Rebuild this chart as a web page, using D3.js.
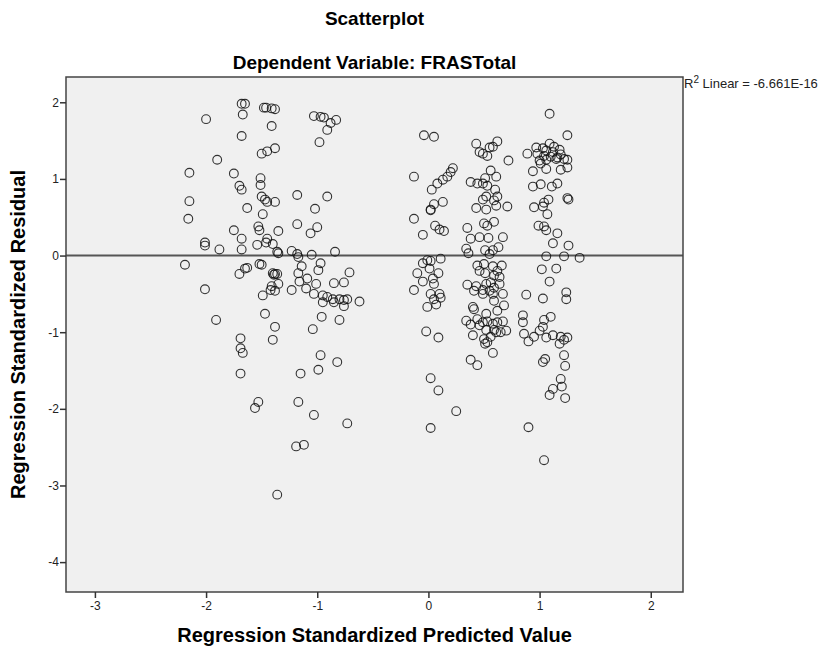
<!DOCTYPE html>
<html>
<head>
<meta charset="utf-8">
<script src="https://cdn.jsdelivr.net/npm/d3@7"></script>
<style>
  body { margin: 0; background: #fff; }
  text { font-family: "Liberation Sans", Arial, sans-serif; }
</style>
</head>
<body>
<svg id="chart" width="833" height="647"></svg>
<script>
var width = 833, height = 647;
var margin = { top: 77, right: 150, bottom: 55, left: 66 };

var titleText = "Scatterplot";
var subtitleText = "Dependent Variable: FRASTotal";
var xTitle = "Regression Standardized Predicted Value";
var yTitle = "Regression Standardized Residual";
var fitLabel = "Linear = -6.661E-16";
var xTicks = [-3, -2, -1, 0, 1, 2];
var yTicks = [2, 1, 0, -1, -2, -3, -4];
var xDomain = [-3.26, 2.29];
var yDomain = [-4.39, 2.33];

// predicted values (x) and residuals (y)
var predicted = [
  -1.68, -1.65, -1.48, -1.46, -1.41, -1.38, -2.00, -1.67, -1.03, -0.97, -0.94, -0.88, -0.83,
  -1.41, -0.91, -1.68, -0.98, -1.50, -1.45, -1.38, -1.90, -2.15, -1.75, -1.51, -1.70, -1.68,
  -1.51, -1.50, -1.47, -1.45, -1.38, -1.18, -0.91, -2.15, -1.63, -1.02, -1.49, -2.16, -1.18,
  -1.00, -1.53, -1.52, -1.75, -1.06, -1.35, -1.68, -2.01, -2.01, -1.45, -1.46, -1.40, -1.88,
  -1.68, -1.54, -1.36, -1.35, -1.23, -1.18, -1.05, -0.84,
  -2.19, -1.70, -1.65, -1.63, -1.52, -1.50, -1.40, -1.38, -1.39, -1.36, -2.01, -1.49, -1.41,
  -1.38, -1.35, -1.42, -1.23, -1.17, -1.14, -1.17, -0.97, -0.99, -0.71, -1.16, -1.09, -1.10,
  -1.01, -1.03, -0.85, -0.76, -0.95, -0.91, -0.86, -0.80, -0.76, -0.73, -0.95, -0.85, -0.76,
  -0.62, -1.47, -1.91, -1.38, -0.96, -0.80, -1.04, -1.69, -1.40, -1.69, -1.67, -0.97, -0.82,
  -0.99, -1.15, -1.69, -1.53, -1.56, -1.17, -1.03, -0.73, -1.19, -1.12, -1.36,
  -0.04, 0.05, -0.13, 0.22, 0.20, 0.17, 0.13, 0.08, 0.03, 0.05, 0.13, 0.02, 0.02, -0.13, -0.05,
  0.06, 0.10, 0.14,
  0.43, 0.55, 0.58, 0.62, 0.46, 0.53, 0.49, 0.72, 0.56, 0.61, 0.51, 0.38, 0.44, 0.49, 0.53,
  0.60, 0.62, 0.59, 0.52, 0.49, 0.61, 0.43, 0.52, 0.71, 0.50, 0.53, 0.59, 0.35, 0.38, 0.46,
  0.54, 0.67, 0.34, 0.36, 0.51, 0.55, 0.58, 0.63,
  1.09, 1.25, 0.89,
  0.97, 1.03, 1.09, 1.13, 1.18, 0.98, 1.04, 1.10, 1.16, 1.22, 1.25, 1.06, 1.12, 1.19, 1.00,
  1.06, 1.15, 1.01, 1.06, 1.19, 1.25, 0.94, 0.94, 1.01, 1.11, 1.16, 1.25, 1.26, 1.08, 1.04,
  1.03, 0.95, 1.07, 0.99, 1.04, 1.06, 1.16, 1.12, 1.26, 1.06, 1.22, 1.36,
  -0.05, -0.01, 0.02, 0.11, -0.10, -0.05, 0.01, 0.09, 0.04, 0.05, -0.13, 0.02, 0.10, 0.05,
  0.11, 0.07, -0.01, -0.02, 0.09, 0.02, 0.09, 0.25, 0.02,
  0.44, 0.50, 0.46, 0.51, 0.58, 0.62, 0.66, 0.59, 0.64,
  0.35, 0.43, 0.41, 0.52, 0.56, 0.49, 0.55, 0.59, 0.64, 0.49, 0.58, 0.67,
  0.59, 0.68, 0.40, 0.41, 0.52, 0.62,
  0.34, 0.38, 0.44, 0.49, 0.53, 0.58, 0.62, 0.67, 0.70, 0.65, 0.59, 0.52, 0.46, 0.40, 0.50,
  0.53, 0.56, 0.61, 0.51, 0.38, 0.44, 0.58,
  0.88, 0.85, 0.85, 0.86, 0.90, 0.95, 1.02, 1.15, 1.09, 1.03, 1.24, 1.24, 1.04, 1.10, 1.03,
  1.00, 1.06, 1.12, 1.19, 1.25, 1.18, 1.22, 1.03, 1.05, 1.22, 1.23, 1.19, 1.12, 1.20, 1.09,
  1.23, 0.90, 1.04
];
var residuals = [
  1.98, 1.98, 1.93, 1.93, 1.92, 1.91, 1.78, 1.84, 1.82, 1.81, 1.80, 1.73, 1.77,
  1.69, 1.64, 1.56, 1.48, 1.33, 1.36, 1.40, 1.25, 1.08, 1.07, 1.01, 0.91, 0.86,
  0.92, 0.77, 0.73, 0.70, 0.70, 0.79, 0.77, 0.71, 0.62, 0.61, 0.54, 0.48, 0.41,
  0.37, 0.38, 0.33, 0.33, 0.29, 0.32, 0.22, 0.17, 0.13, 0.22, 0.17, 0.15, 0.08,
  0.08, 0.14, 0.05, 0.03, 0.06, 0.02, 0.01, 0.05,
  -0.12, -0.24, -0.17, -0.16, -0.11, -0.12, -0.23, -0.24, -0.25, -0.24, -0.44, -0.52, -0.40,
  -0.46, -0.37, -0.45, -0.45, -0.02, -0.14, -0.23, -0.10, -0.19, -0.22, -0.34, -0.30, -0.43,
  -0.37, -0.50, -0.36, -0.35, -0.52, -0.54, -0.57, -0.57, -0.58, -0.57, -0.61, -0.61, -0.66,
  -0.60, -0.76, -0.84, -0.93, -0.80, -0.84, -0.96, -1.08, -1.10, -1.21, -1.27, -1.30, -1.39,
  -1.49, -1.54, -1.54, -1.91, -1.99, -1.91, -2.08, -2.19, -2.49, -2.47, -3.12,
  1.57, 1.55, 1.03, 1.14, 1.09, 1.03, 0.99, 0.94, 0.86, 0.67, 0.70, 0.59, 0.60, 0.48, 0.27,
  0.39, 0.34, 0.32,
  1.46, 1.41, 1.42, 1.49, 1.35, 1.30, 1.33, 1.24, 1.11, 1.03, 1.01, 0.96, 0.94, 0.94, 0.91,
  0.86, 0.77, 0.72, 0.77, 0.73, 0.65, 0.62, 0.60, 0.64, 0.42, 0.39, 0.44, 0.36, 0.22, 0.24,
  0.23, 0.24, 0.09, 0.03, 0.07, 0.02, 0.07, 0.11,
  1.85, 1.57, 1.33,
  1.41, 1.40, 1.46, 1.42, 1.38, 1.33, 1.30, 1.29, 1.28, 1.26, 1.25, 1.37, 1.35, 1.32, 1.24,
  1.25, 1.26, 1.20, 1.13, 1.12, 1.15, 1.10, 0.90, 0.93, 0.90, 0.94, 0.75, 0.73, 0.73, 0.69,
  0.64, 0.63, 0.54, 0.39, 0.38, 0.33, 0.29, 0.16, 0.13, -0.01, -0.01, -0.03,
  -0.10, -0.06, -0.07, -0.04, -0.23, -0.34, -0.17, -0.23, -0.30, -0.37, -0.45, -0.50, -0.50,
  -0.57, -0.55, -0.64, -0.67, -0.99, -1.07, -1.60, -1.76, -2.03, -2.25,
  -0.13, -0.11, -0.20, -0.23, -0.14, -0.20, -0.13, -0.26, -0.28,
  -0.38, -0.40, -0.46, -0.37, -0.35, -0.45, -0.46, -0.42, -0.37, -0.50, -0.50, -0.50,
  -0.59, -0.65, -0.67, -0.70, -0.76, -0.72,
  -0.85, -0.90, -0.83, -0.87, -0.86, -0.89, -0.87, -0.86, -0.98, -1.00, -0.97, -0.97, -0.91, -1.04, -1.09,
  -1.13, -1.06, -1.00, -1.15, -1.36, -1.43, -1.27,
  -0.51, -0.78, -0.87, -1.02, -1.12, -1.06, -0.18, -0.17, -0.34, -0.56, -0.48, -0.57, -0.84, -0.80, -0.93,
  -0.98, -1.07, -1.04, -1.06, -1.07, -1.15, -1.10, -1.39, -1.35, -1.30, -1.44, -1.61, -1.74, -1.71, -1.82,
  -1.86, -2.24, -2.67
];

var points = predicted.map(function(d, i) { return { x: d, y: residuals[i] }; });

var svg = d3.select("#chart");
var plotW = width - margin.left - margin.right;   // right edge at 683
var plotH = height - margin.top - margin.bottom;  // bottom edge at 592

var x = d3.scaleLinear().domain(xDomain).range([margin.left, margin.left + plotW]);
var y = d3.scaleLinear().domain(yDomain).range([margin.top + plotH, margin.top]);

svg.append("rect")
    .attr("x", margin.left).attr("y", margin.top)
    .attr("width", plotW).attr("height", plotH)
    .style("fill", "#f0f0f0");

// fit line at residual 0
svg.append("line")
    .attr("x1", margin.left).attr("x2", margin.left + plotW)
    .attr("y1", y(0)).attr("y2", y(0))
    .style("stroke", "#555").style("stroke-width", 2);

svg.append("g").selectAll("circle")
    .data(points)
    .enter().append("circle")
    .attr("cx", function(d) { return x(d.x); })
    .attr("cy", function(d) { return y(d.y); })
    .attr("r", 4.4)
    .style("fill", "none")
    .style("stroke", "#111")
    .style("stroke-width", 1.1)
    .style("stroke-opacity", 0.85);

// frame
svg.append("rect")
    .attr("x", margin.left).attr("y", margin.top)
    .attr("width", plotW).attr("height", plotH)
    .style("fill", "none").style("stroke", "#444").style("stroke-width", 1.5);

// plain hyphen for negatives, like the original
var fmt = function(d) { return String(d); };

var xAxis = svg.append("g")
    .attr("transform", "translate(0," + (margin.top + plotH) + ")")
    .call(d3.axisBottom(x).tickValues(xTicks).tickSize(6).tickSizeOuter(0).tickFormat(fmt));
var yAxis = svg.append("g")
    .attr("transform", "translate(" + margin.left + ",0)")
    .call(d3.axisLeft(y).tickValues(yTicks).tickSize(6).tickSizeOuter(0).tickFormat(fmt));

[xAxis, yAxis].forEach(function(ax) {
    ax.select(".domain").remove();
    ax.selectAll(".tick line").style("stroke", "#333").style("stroke-width", 1.5);
    ax.selectAll(".tick text")
        .style("font-family", "'Liberation Sans', Arial, sans-serif")
        .style("font-size", "12px")
        .style("fill", "#222");
});
yAxis.selectAll(".tick text").attr("x", -7);
xAxis.selectAll(".tick text").attr("y", 9);

var cx = margin.left + plotW / 2;
svg.append("text").attr("x", cx).attr("y", 25)
    .attr("text-anchor", "middle")
    .style("font-size", "19px").style("font-weight", "bold")
    .text(titleText);
svg.append("text").attr("x", cx).attr("y", 69)
    .attr("text-anchor", "middle")
    .style("font-size", "19px").style("font-weight", "bold")
    .text(subtitleText);

svg.append("text").attr("x", cx).attr("y", 642)
    .attr("text-anchor", "middle")
    .style("font-size", "20px").style("font-weight", "bold")
    .text(xTitle);

svg.append("text")
    .attr("transform", "translate(25," + (margin.top + plotH / 2) + ") rotate(-90)")
    .attr("text-anchor", "middle")
    .style("font-size", "20px").style("font-weight", "bold")
    .text(yTitle);

var r2 = svg.append("text")
    .attr("x", margin.left + plotW + 1).attr("y", margin.top + 11)
    .style("font-size", "13px").style("fill", "#222");
r2.append("tspan").text("R");
r2.append("tspan").attr("dy", -5).style("font-size", "10px").text("2");
r2.append("tspan").attr("dy", 5).text(" " + fitLabel);
</script>
</body>
</html>
